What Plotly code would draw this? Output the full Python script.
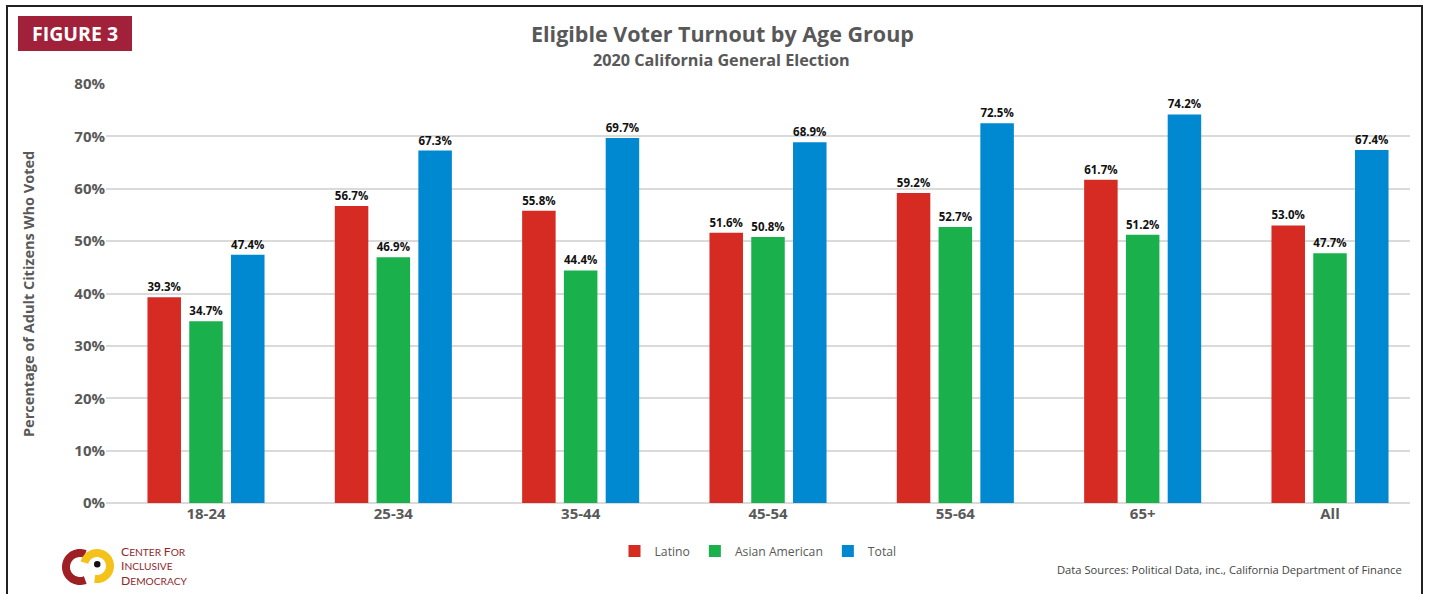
import math
import plotly.graph_objects as go

age_groups = ["18-24", "25-34", "35-44", "45-54", "55-64", "65+", "All"]
latino = [39.3, 56.7, 55.8, 51.6, 59.2, 61.7, 53.0]
asian_american = [34.7, 46.9, 44.4, 50.8, 52.7, 51.2, 47.7]
total = [47.4, 67.3, 69.7, 68.9, 72.5, 74.2, 67.4]
series_names = ["Latino", "Asian American", "Total"]
y_ticks = [0, 10, 20, 30, 40, 50, 60, 70, 80]

W, H = 1430, 594
L, R, T, B = 106, 20, 84, 91
PW, PH = W - L - R, H - T - B


def px_x(p):
    return (p - L) / PW


def px_y(p):
    return (H - B - p) / PH


colors = ["#D52B23", "#1AB04C", "#0088D1"]
FONT = "Open Sans"
GRAY = "#595959"

fig = go.Figure()
for name, vals, col in zip(series_names, [latino, asian_american, total], colors):
    fig.add_trace(go.Bar(
        x=age_groups, y=vals, name=name, marker=dict(color=col, line=dict(width=0)),
        texttemplate="<b>%{y:.1f}%</b>", textposition="outside",
        textfont=dict(family=FONT, size=11.5, color="#111111"),
        cliponaxis=False,
    ))

shapes = [
    dict(type="rect", xref="paper", yref="paper", x0=px_x(7), x1=px_x(1422), y0=px_y(650), y1=px_y(6),
         line=dict(color="#222222", width=2), fillcolor="rgba(0,0,0,0)", layer="above"),
    dict(type="rect", xref="paper", yref="paper", x0=px_x(18), x1=px_x(132), y0=px_y(51), y1=px_y(16),
         line=dict(width=0), fillcolor="#A2213A"),
]


def arc_path(cx, cy, r, a0, a1, n=48):
    pts = []
    for i in range(n + 1):
        a = math.radians(a0 + (a1 - a0) * i / n)
        pts.append((px_x(cx + r * math.cos(a)), px_y(cy - r * math.sin(a))))
    return "M " + " L ".join(f"{x:.5f},{y:.5f}" for x, y in pts)


shapes.append(dict(type="path", xref="paper", yref="paper", path=arc_path(80, 567, 14, 68, 292),
                   line=dict(color="#9E1F24", width=8)))
shapes.append(dict(type="path", xref="paper", yref="paper", path=arc_path(97, 566, 13, 165, -100),
                   line=dict(color="#F4C21A", width=8)))
shapes.append(dict(type="circle", xref="paper", yref="paper", x0=px_x(94), x1=px_x(100.5), y0=px_y(567.5), y1=px_y(561),
                   line=dict(width=0), fillcolor="#111111"))

logo_col = "#8E2A2E"


def sc(word):
    return f"<span style='font-size:12.2px'>{word[0]}</span>{word[1:]}"


def ann(text, x, y, size, color, bold=False, xanchor="center", angle=0, align="center", family=FONT):
    return dict(text=f"<b>{text}</b>" if bold else text, x=px_x(x), y=px_y(y), xref="paper", yref="paper",
                xanchor=xanchor, yanchor="middle", showarrow=False, textangle=angle, align=align,
                font=dict(family=family, size=size, color=color))


annotations = [
    ann("FIGURE 3", 75, 33, 19.5, "white", bold=True),
    ann("Eligible Voter Turnout by Age Group", 722, 34, 21.5, "#585858", bold=True),
    ann("2020 California General Election", 721, 60, 16.2, "#585858", bold=True),
    ann("Percentage of Adult Citizens Who Voted", 28, 294, 14.5, GRAY, bold=True, angle=-90),
    ann("Data Sources: Political Data, inc., California Department of Finance", 1404, 569, 11.2, "#444444",
        xanchor="right"),
    ann(sc("CENTER") + " " + sc("FOR"), 119, 551, 10.2, logo_col, xanchor="left", family="Lato"),
    ann(sc("INCLUSIVE"), 119, 565.7, 10.2, logo_col, xanchor="left", family="Lato"),
    ann(sc("DEMOCRACY"), 119, 580.4, 10.2, logo_col, xanchor="left", family="Lato"),
]

unit = (1330 - 206) / 6.0
x_range = [-(206 - L) / unit, 6 + (L + PW - 1330) / unit]

fig.update_layout(
    width=W, height=H,
    margin=dict(l=L, r=R, t=T, b=B),
    paper_bgcolor="white", plot_bgcolor="white",
    barmode="group", bargap=0.331, bargroupgap=0.198,
    font=dict(family=FONT, color=GRAY),
    showlegend=True,
    legend=dict(orientation="h", x=0.5, xanchor="center", y=px_y(551), yanchor="middle",
                font=dict(family=FONT, size=12.2, color=GRAY), traceorder="normal"),
    xaxis=dict(range=x_range, tickfont=dict(family=FONT, size=15, color=GRAY), showline=False, ticks="",
               tickprefix="<b>", ticksuffix="</b>"),
    yaxis=dict(range=[0, 80], tickvals=y_ticks, ticktext=[f"<b>{v}%</b>" for v in y_ticks],
               tickfont=dict(family=FONT, size=15, color=GRAY), showgrid=True, gridcolor="#DADADA",
               gridwidth=1.5, zeroline=True, zerolinecolor="#DADADA", zerolinewidth=1.5, ticks=""),
    shapes=shapes,
    annotations=annotations,
)

fig.write_html("out.html", config={"displayModeBar": False},
               post_script="document.body.style.margin='0';document.body.style.overflow='hidden';")
